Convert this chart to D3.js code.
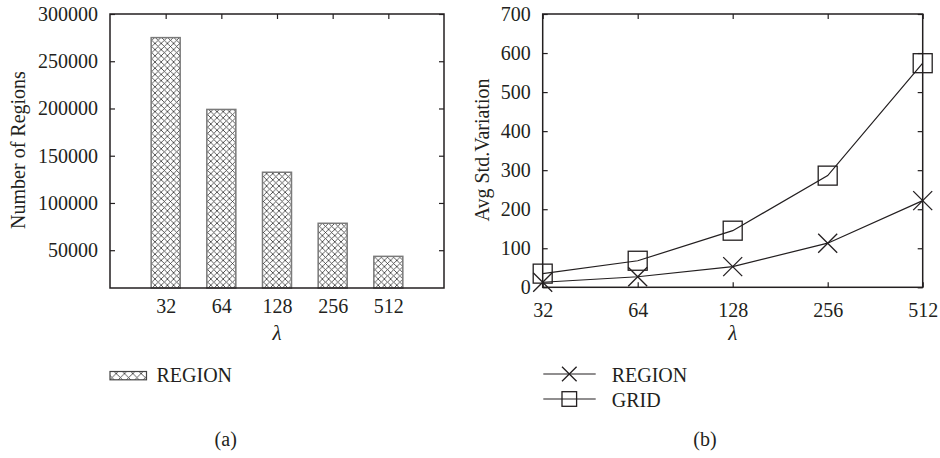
<!DOCTYPE html>
<html>
<head>
<meta charset="utf-8">
<script src="https://cdn.jsdelivr.net/npm/d3@7/dist/d3.min.js"></script>
<style>
  html, body { margin: 0; padding: 0; background: #fff; }
  svg { display: block; }
  text { font-family: "Liberation Serif", "DejaVu Serif", serif; fill: #231f20; }
</style>
</head>
<body>
<svg id="chart" width="940" height="458"></svg>
<script>
// ---- data ----
const lambdas = [32, 64, 128, 256, 512];
const lambdaLabels = ["32", "64", "128", "256", "512"];
const regionCounts = [275000, 199000, 132500, 78500, 43500];
const countTicks = [50000, 100000, 150000, 200000, 250000, 300000];
const regionStd = [13, 27, 53, 113, 222];
const gridStd = [35, 68, 145, 286, 574];
const stdTicks = [0, 100, 200, 300, 400, 500, 600, 700];
const seriesNames = ["REGION", "GRID"];

const svg = d3.select("#chart");
svg.append("rect").attr("width", 940).attr("height", 458).attr("fill", "#fff");
const ink = "#231f20";
const FS = 20;

// hatch patterns
const defs = svg.append("defs");
function hatch(id, s) {
  const p = defs.append("pattern").attr("id", id).attr("patternUnits", "userSpaceOnUse")
    .attr("width", s).attr("height", s);
  p.append("rect").attr("width", s).attr("height", s).attr("fill", "#fff");
  p.append("path").attr("d", `M0,0L${s},${s}M${s},0L0,${s}`)
    .attr("stroke", "#333").attr("stroke-width", 0.8);
}
hatch("hatchBar", 6.2);
hatch("hatchLeg", 8.3);

// ===== Panel (a) =====
const A = { l: 110, r: 444, t: 14, b: 288 };
const xa = d3.scaleLinear().domain([-1, 5]).range([A.l, A.r]);
const ya = d3.scaleLinear().domain([10000, 300000]).range([A.b, A.t]);
const ga = svg.append("g");
const barW = 29;

ga.selectAll("rect.bar").data(regionCounts).join("rect").attr("class", "bar")
  .attr("x", (d, i) => xa(i) - barW / 2).attr("width", barW)
  .attr("y", d => ya(d)).attr("height", d => ya(10000) - ya(d))
  .attr("fill", "url(#hatchBar)").attr("stroke", "#7a7a7a").attr("stroke-width", 1.5);

// y axis (ticks inward, labels)
const yAxA = d3.axisLeft(ya).tickValues(countTicks).tickSize(-5).tickPadding(12).tickFormat(d3.format("d"));
const gyA = ga.append("g").attr("transform", `translate(${A.l},0)`).call(yAxA);
const yAxAR = d3.axisRight(ya).tickValues(countTicks).tickSize(-5).tickFormat("");
const gyAR = ga.append("g").attr("transform", `translate(${A.r},0)`).call(yAxAR);
// top ticks at categories
const xAxAT = d3.axisTop(xa).tickValues([0, 1, 2, 3, 4]).tickSize(-5).tickFormat("");
const gxAT = ga.append("g").attr("transform", `translate(0,${A.t})`).call(xAxAT);
// bottom labels
const xAxAB = d3.axisBottom(xa).tickValues([0, 1, 2, 3, 4]).tickSize(0).tickPadding(11)
  .tickFormat((d) => lambdaLabels[d]);
const gxAB = ga.append("g").attr("transform", `translate(0,${A.b})`).call(xAxAB);
[gyA, gyAR, gxAT, gxAB].forEach(g => {
  g.select(".domain").remove();
  g.selectAll("line").attr("stroke", ink).attr("stroke-width", 1.2);
  g.selectAll("text").attr("font-size", FS).attr("fill", ink).attr("font-family", "Liberation Serif");
});
ga.append("rect").attr("x", A.l).attr("y", A.t).attr("width", A.r - A.l).attr("height", A.b - A.t)
  .attr("fill", "none").attr("stroke", ink).attr("stroke-width", 1.5);

ga.append("text").attr("transform", `translate(25,150) rotate(-90)`).attr("text-anchor", "middle")
  .attr("font-size", FS).text("Number of Regions");
ga.append("text").attr("x", xa(2)).attr("y", 340).attr("text-anchor", "middle")
  .attr("font-size", FS + 1).attr("font-style", "italic").text("λ");
ga.append("rect").attr("x", 110).attr("y", 371.5).attr("width", 36.5).attr("height", 8.3)
  .attr("fill", "url(#hatchLeg)").attr("stroke", "#444").attr("stroke-width", 1.2);
ga.append("text").attr("x", 156.5).attr("y", 382).attr("font-size", FS).text(seriesNames[0]);
ga.append("text").attr("x", 225.7).attr("y", 446).attr("text-anchor", "middle").attr("font-size", FS).text("(a)");

// ===== Panel (b) =====
const B = { l: 542.7, r: 922.7, t: 14, b: 287.3 };
const xb = d3.scaleLog().base(2).domain([32, 512]).range([B.l, B.r]);
const yb = d3.scaleLinear().domain([0, 700]).range([B.b, B.t]);
const gb = svg.append("g");

const yAxB = d3.axisLeft(yb).tickValues(stdTicks).tickSize(-5).tickPadding(12).tickFormat(d3.format("d"));
const gyB = gb.append("g").attr("transform", `translate(${B.l},0)`).call(yAxB);
const gyBR = gb.append("g").attr("transform", `translate(${B.r},0)`)
  .call(d3.axisRight(yb).tickValues(stdTicks).tickSize(-5).tickFormat(""));
const gxBT = gb.append("g").attr("transform", `translate(0,${B.t})`)
  .call(d3.axisTop(xb).tickValues(lambdas).tickSize(-5).tickFormat(""));
const gxBB = gb.append("g").attr("transform", `translate(0,${B.b})`)
  .call(d3.axisBottom(xb).tickValues(lambdas).tickSize(-5).tickPadding(16).tickFormat((d, i) => lambdaLabels[i]));
[gyB, gyBR, gxBT, gxBB].forEach(g => {
  g.select(".domain").remove();
  g.selectAll("line").attr("stroke", ink).attr("stroke-width", 1.2);
  g.selectAll("text").attr("font-size", FS).attr("fill", ink).attr("font-family", "Liberation Serif");
});
gb.append("rect").attr("x", B.l).attr("y", B.t).attr("width", B.r - B.l).attr("height", B.b - B.t)
  .attr("fill", "none").attr("stroke", ink).attr("stroke-width", 1.5);

const line = d3.line().x((d, i) => xb(lambdas[i])).y(d => yb(d));
function xMark(g, cx, cy, h) {
  g.append("path").attr("d", `M${cx - h},${cy - h}L${cx + h},${cy + h}M${cx + h},${cy - h}L${cx - h},${cy + h}`)
    .attr("stroke", ink).attr("stroke-width", 1.3).attr("fill", "none");
}
function sqMark(g, cx, cy, h) {
  g.append("rect").attr("x", cx - h).attr("y", cy - h).attr("width", 2 * h).attr("height", 2 * h)
    .attr("fill", "none").attr("stroke", ink).attr("stroke-width", 1.3);
}
gb.append("path").datum(regionStd).attr("d", line).attr("fill", "none").attr("stroke", ink).attr("stroke-width", 1.2);
gb.append("path").datum(gridStd).attr("d", line).attr("fill", "none").attr("stroke", ink).attr("stroke-width", 1.2);
regionStd.forEach((v, i) => xMark(gb, xb(lambdas[i]), yb(v), 9.5));
gridStd.forEach((v, i) => sqMark(gb, xb(lambdas[i]), yb(v), 9.5));

gb.append("text").attr("transform", `translate(489,150) rotate(-90)`).attr("text-anchor", "middle")
  .attr("font-size", FS).text("Avg Std.Variation");
gb.append("text").attr("x", xb(128)).attr("y", 340).attr("text-anchor", "middle")
  .attr("font-size", FS + 1).attr("font-style", "italic").text("λ");

// legend (b)
const legRows = [{ y: 374, ty: 381.5, name: seriesNames[0], m: xMark }, { y: 399, ty: 407, name: seriesNames[1], m: sqMark }];
legRows.forEach(r => {
  gb.append("line").attr("x1", 543.3).attr("x2", 595.7).attr("y1", r.y).attr("y2", r.y)
    .attr("stroke", ink).attr("stroke-width", 1.2);
  r.m(gb, 569.3, r.y, 7.3);
  gb.append("text").attr("x", 611.7).attr("y", r.ty).attr("font-size", FS).text(r.name);
});
gb.append("text").attr("x", 705).attr("y", 446).attr("text-anchor", "middle").attr("font-size", FS).text("(b)");
</script>
</body>
</html>
